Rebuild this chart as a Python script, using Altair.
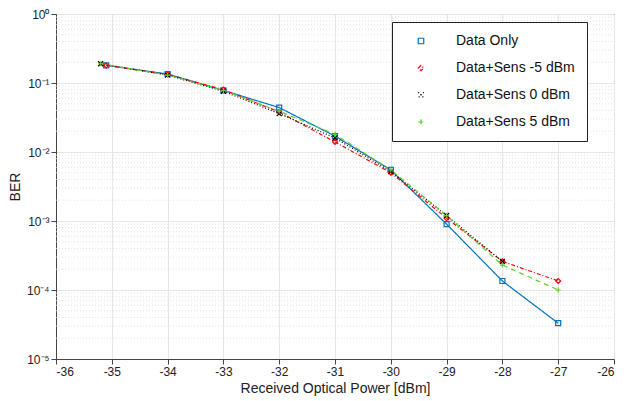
import pandas as pd
import altair as alt

x_blue = [-35.1, -34, -33, -32, -31, -30, -29, -28, -27]
ber_blue = [0.18, 0.135, 0.078, 0.044, 0.017, 0.0055, 0.0009, 0.000135, 0.000033]
x_red = [-35.1, -34, -33, -32, -31, -30, -29, -28, -27]
ber_red = [0.18, 0.133, 0.08, 0.038, 0.014, 0.005, 0.0011, 0.00026, 0.000135]
x_black = [-35.2, -34, -33, -32, -31, -30, -29, -28]
ber_black = [0.19, 0.13, 0.076, 0.036, 0.016, 0.0052, 0.0012, 0.00026]
x_green = [-35.2, -34, -33, -32, -31, -30, -29, -28, -27]
ber_green = [0.19, 0.13, 0.078, 0.039, 0.018, 0.0055, 0.0012, 0.00023, 0.0001]

names = ["Data Only", "Data+Sens -5 dBm", "Data+Sens 0 dBm", "Data+Sens 5 dBm"]
colors = ["#0072BD", "#FF0000", "#000000", "#5BD02A"]
dashes = [[1, 0], [4, 2, 1, 2], [1, 2], [5, 4]]
shapes = ["square", "diamond", "M-1,-1L1,1M1,-1L-1,1", "M-1,0L1,0M0,-1L0,1"]

rows = []
for name, xs, ys in zip(names, [x_blue, x_red, x_black, x_green],
                        [ber_blue, ber_red, ber_black, ber_green]):
    for xv, yv in zip(xs, ys):
        rows.append({"series": name, "mk": name, "power": xv, "ber": yv})
df = pd.DataFrame(rows)

minor = [m * 10.0 ** e for e in range(-5, 0) for m in range(2, 10)]
minor_df = pd.DataFrame({"v": minor})

W, H = 558, 345
xs = alt.Scale(domain=[-36, -26], nice=False)
ys = alt.Scale(type="log", domain=[1e-5, 1], nice=False)

sup = "{'0':'⁰','-1':'⁻¹','-2':'⁻²','-3':'⁻³','-4':'⁻⁴','-5':'⁻⁵'}"

minor_grid = alt.Chart(minor_df).mark_rule(
    color="#dddddd", strokeDash=[1, 2], strokeWidth=0.8
).encode(y=alt.Y("v:Q", scale=ys), x=alt.value(0), x2=alt.value(W))

leg = alt.Legend(
    title=None, orient="none", legendX=336, legendY=8, strokeColor="#222222",
    fillColor="white", padding=12, labelFontSize=14, symbolSize=30,
    symbolStrokeWidth=1.2, rowPadding=13, labelFont="Liberation Sans",
    labelLimit=300, labelColor="#111111", labelOffset=28, symbolOffset=10
)

enc_common = dict(
    x=alt.X("power:Q", scale=xs, title="Received Optical Power [dBm]",
            axis=alt.Axis(values=list(range(-36, -25)), labelExpr="toString(datum.value)")),
    y=alt.Y("ber:Q", scale=ys, title="BER",
            axis=alt.Axis(values=[1e-5, 1e-4, 1e-3, 1e-2, 1e-1, 1],
                          labelExpr="'10' + " + sup + "[toString(round(log(datum.value)/LN10))]")),
)

lines = alt.Chart(df).mark_line(strokeWidth=1.2).encode(
    **enc_common,
    color=alt.Color("series:N", scale=alt.Scale(domain=names, range=colors), legend=leg),
    strokeDash=alt.StrokeDash("series:N", scale=alt.Scale(domain=names, range=dashes), legend=leg),
)

points = alt.Chart(df).mark_point(size=25, filled=False, strokeWidth=1.2, opacity=1).encode(
    **enc_common,
    stroke=alt.Stroke("mk:N", scale=alt.Scale(domain=names, range=colors), legend=None),
    shape=alt.Shape("mk:N", scale=alt.Scale(domain=names, range=shapes), legend=None),
)

chart = (minor_grid + lines + points).properties(
    width=W, height=H, padding={"left": 0, "top": 0, "right": 5, "bottom": 5}
).configure_axis(
    gridColor="#e6e6e6", domainColor="#444444", tickColor="#444444",
    labelFont="Liberation Sans", titleFont="Liberation Sans",
    labelFontSize=12, titleFontSize=14, titleFontWeight="normal", labelColor="#222222",
    titleColor="#222222"
).configure_view(stroke="#444444")

chart.save("out.html", embed_options={"renderer": "svg", "actions": False})
